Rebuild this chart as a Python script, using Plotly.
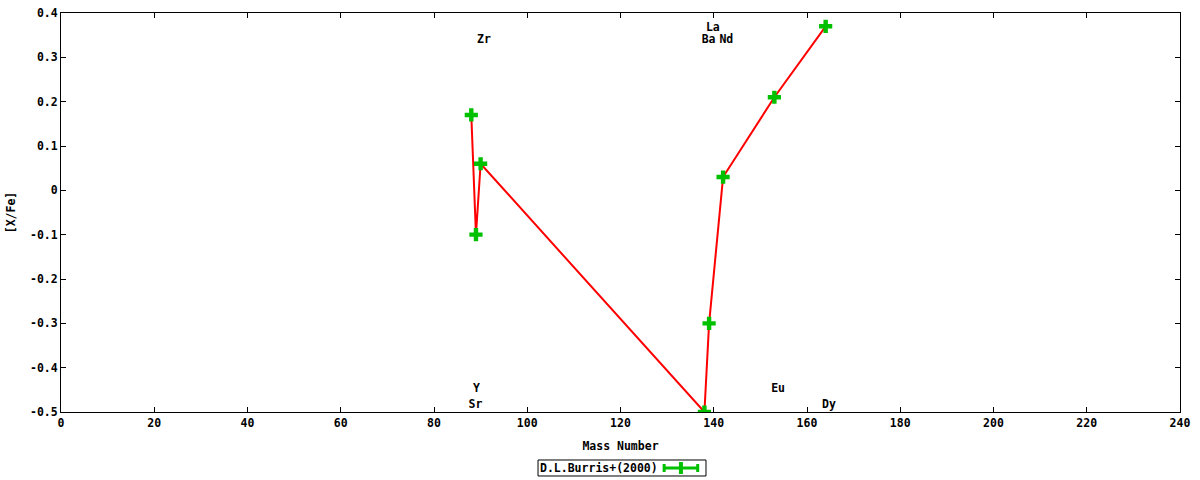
import plotly.graph_objects as go

# Abundance pattern, D.L.Burris+(2000)
mass_number = [88, 89, 90, 138, 139, 142, 153, 164]
x_fe = [0.17, -0.10, 0.06, -0.50, -0.30, 0.03, 0.21, 0.37]

# Element labels and where they sit on the chart
label_text = ["Zr", "La", "Ba", "Nd", "Y", "Sr", "Eu", "Dy"]
label_x = [90.7, 139.8, 138.9, 142.7, 89.1, 88.9, 153.8, 164.7]
label_y = [0.339, 0.366, 0.339, 0.339, -0.448, -0.484, -0.448, -0.484]

# y tick labels as gnuplot prints them
y_tick_vals = [0.4, 0.3, 0.2, 0.1, 0.0, -0.1, -0.2, -0.3, -0.4, -0.5]
y_tick_text = ["0.4", "0.3", "0.2", "0.1", "0", "-0.1", "-0.2", "-0.3", "-0.4", "-0.5"]

series_name = "D.L.Burris+(2000)"

FONT = dict(family="DejaVu Sans Mono", size=11.5, color="black", weight="bold")
GREEN = "#00c000"

fig = go.Figure()

# red connecting line
fig.add_trace(go.Scatter(
  x=mass_number, y=x_fe, mode="lines",
  line=dict(color="#ff0000", width=2),
  showlegend=False, hoverinfo="skip"
))

# green cross markers
fig.add_trace(go.Scatter(
  x=mass_number, y=x_fe, mode="markers", name=series_name,
  marker=dict(symbol="cross", size=11, color=GREEN, line=dict(width=0)),
  showlegend=False
))

fig.add_trace(go.Scatter(
  x=label_x, y=label_y, mode="text", text=label_text,
  textfont=FONT, showlegend=False, hoverinfo="skip"
))

axis_common = dict(
  showgrid=False, zeroline=False, automargin=False,
  showline=True, linecolor="black", linewidth=1, mirror="ticks",
  ticks="inside", ticklen=5, tickcolor="black",
  tickfont=FONT, ticklabeloverflow="allow",
)

# gnuplot-style key: text on the left, sample on the right, boxed
fig.add_annotation(
  xref="paper", yref="paper", x=0.4263, y=-0.1404,
  xanchor="left", yanchor="middle", showarrow=False,
  text=series_name, font=FONT
)
fig.add_shape(type="rect", xref="paper", yref="paper",
              x0=0.4263, x1=0.5764, y0=-0.1604, y1=-0.1203,
              line=dict(color="black", width=1))
fig.add_shape(type="line", xref="paper", yref="paper",
              x0=0.539, x1=0.569, y0=-0.1404, y1=-0.1404,
              line=dict(color=GREEN, width=3))
for px in (0.539, 0.569):
  fig.add_shape(type="line", xref="paper", yref="paper",
                x0=px, x1=px, y0=-0.1504, y1=-0.1304,
                line=dict(color=GREEN, width=3))
fig.add_shape(type="line", xref="paper", yref="paper",
              x0=0.554, x1=0.554, y0=-0.1554, y1=-0.1254,
              line=dict(color=GREEN, width=4))

fig.update_layout(
  width=1200, height=480,
  margin=dict(l=61, r=20, t=13, b=68),
  paper_bgcolor="white", plot_bgcolor="white",
  font=FONT, showlegend=False,
  xaxis=dict(range=[0, 240], dtick=20, title=dict(text="Mass Number", font=FONT, standoff=13),
             **axis_common),
  yaxis=dict(range=[-0.5, 0.4], tickvals=y_tick_vals, ticktext=y_tick_text,
             title=dict(text="[X/Fe]", font=FONT, standoff=11),
             **axis_common),
)

# drop the default page margin so the figure fills the window
fig.write_html("out.html", config={"displayModeBar": False},
               post_script="document.body.style.margin='0';")
